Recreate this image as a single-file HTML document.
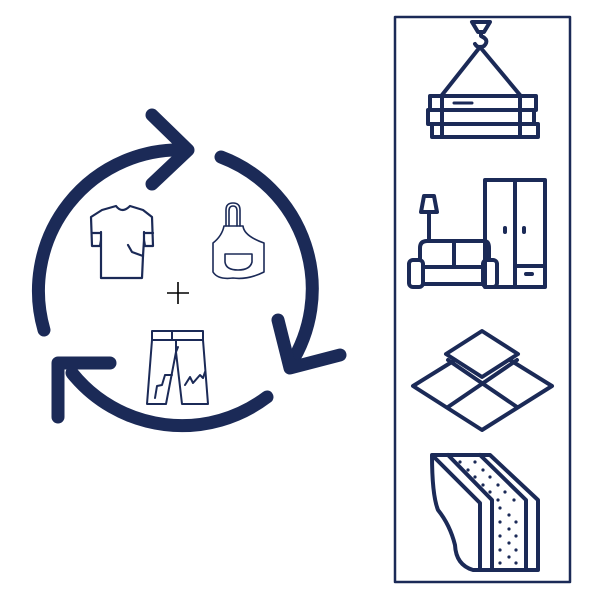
<!DOCTYPE html>
<html><head><style>body{margin:0;background:#fff}svg{display:block}</style></head><body>
<svg width="600" height="600" viewBox="0 0 600 600" xmlns="http://www.w3.org/2000/svg">
<g fill="none" stroke="#1b2a57" stroke-linecap="round" stroke-linejoin="round">
<g stroke-width="13">
<path d="M44 330 A141 141 0 0 1 186 150"/>
<path d="M152 115 L188 150 L152 184"/>
<path d="M221 157 A141 141 0 0 1 290 365"/>
<path d="M278 320 L290 368 L340 355"/>
<path d="M267 397 A141 141 0 0 1 72 373"/>
<path d="M110 363 L58 363 L58 417"/>
</g>
<g stroke-width="2.2">
<path d="M102 210 L116 206 Q122 214 130 206 L143 210 L152 217 L153 246 L145 246 L144 240 L143 256 L142 278 L101 278 L101 240 L100 246 L92 246 L91 217 Z"/>
<path d="M92 233 L101 233 M144 233 L153 233 M101 232 L101 240 M144 232 L144 240"/>
<path d="M128 245 L132 252 L143 256"/>
</g>
<g stroke-width="1.6">
<path d="M226 226 L226 210 Q226 203 233 203 Q240 203 240 210 L240 226"/>
<path d="M229 226 L229 211 Q229 206 233 206 Q237 206 237 211 L237 226"/>
<path d="M224 226 L243 226 Q244 236 264 243 L264 272 Q248 280 233 278 Q218 280 213 272 L213 243 Q222 236 224 226 Z"/>
<path d="M225 254 L252 254 L252 262 Q250 270 238 270 Q226 270 225 262 Z"/>
</g>
<path d="M167 293 L189 293 M178 282 L178 304" stroke="#000" stroke-width="1.6" stroke-linecap="butt"/>
<g stroke-width="2">
<path d="M152 331 L203 331 L203 340 L152 340 Z M172 331 L172 340"/>
<path d="M152 340 L147 404 L166 404 L176 352 L182 404 L208 404 L203 340"/>
<path d="M176 340 L176 352 M178 347 L176 352"/>
<path d="M155 398 L157 386 L162 385 L165 375 L172 375 M185 385 L190 377 L193 383 L200 375 L203 378 L205 372"/>
</g>
<rect x="395" y="17" width="175" height="565" stroke-width="2.5"/>
<g stroke-width="4">
<path d="M472 22 L490 22 L484 32 L478 32 Z"/>
<path d="M481 32 L481 36 Q490 40 484 46 Q478 49 475 44"/>
<path d="M480 47 L442 95 M480 47 L520 95"/>
<rect x="430" y="96" width="106" height="14"/>
<rect x="428" y="110" width="106" height="14"/>
<rect x="432" y="124" width="106" height="13"/>
<path d="M442 96 L442 137 M520 96 L520 137"/>
<path d="M454 103 L472 103" stroke-width="3"/>
<rect x="485" y="180" width="60" height="107"/>
<path d="M515 180 L515 287 M515 266 L545 266"/>
<path d="M505 228 L505 232 M524 228 L524 232 M526 274 L532 274"/>
<path d="M424 196 L434 196 L437 212 L421 212 Z M429 212 L429 240"/>
<path d="M420 260 L420 248 Q420 241 427 241 L484 241 Q489 241 489 248 L489 260"/>
<path d="M454 241 L454 267"/>
<rect x="409" y="260" width="14" height="27" rx="4"/>
<rect x="483" y="260" width="14" height="27" rx="4"/>
<path d="M423 267 L483 267 M423 284 L483 284"/>
<path d="M482 331 L518 354 L482 377 L446 354 Z"/>
<path d="M455 360 L413 386 L482 430 L552 386 L510 360"/>
<path d="M448 360 L517 407 M517 360 L448 407"/>
<path d="M432 455 L490 455 L538 500 L538 570 L473 570 Q456 565 455 545 Q450 525 438 510 Q432 495 432 455 Z"/>
<path d="M435 458 L480 503 L480 570 M448 455 L492 500 L492 570 M480 455 L526 500 L526 570"/>
</g>
<g fill="#1b2a57" stroke="none">
<circle cx="460" cy="462" r="1.6"/><circle cx="475" cy="462" r="1.6"/>
<circle cx="468" cy="470" r="1.6"/><circle cx="483" cy="470" r="1.6"/>
<circle cx="475" cy="477" r="1.6"/><circle cx="490" cy="477" r="1.6"/>
<circle cx="483" cy="485" r="1.6"/><circle cx="498" cy="485" r="1.6"/>
<circle cx="490" cy="492" r="1.6"/><circle cx="505" cy="492" r="1.6"/>
<circle cx="498" cy="500" r="1.6"/><circle cx="514" cy="500" r="1.6"/>
<circle cx="500" cy="508" r="1.6"/><circle cx="509" cy="515" r="1.6"/>
<circle cx="500" cy="522" r="1.6"/><circle cx="516" cy="522" r="1.6"/>
<circle cx="509" cy="529" r="1.6"/><circle cx="500" cy="536" r="1.6"/>
<circle cx="516" cy="536" r="1.6"/><circle cx="509" cy="543" r="1.6"/>
<circle cx="500" cy="550" r="1.6"/><circle cx="516" cy="550" r="1.6"/>
<circle cx="509" cy="557" r="1.6"/><circle cx="500" cy="563" r="1.6"/>
<circle cx="516" cy="563" r="1.6"/>
</g>
</g>
</svg>
</body></html>
